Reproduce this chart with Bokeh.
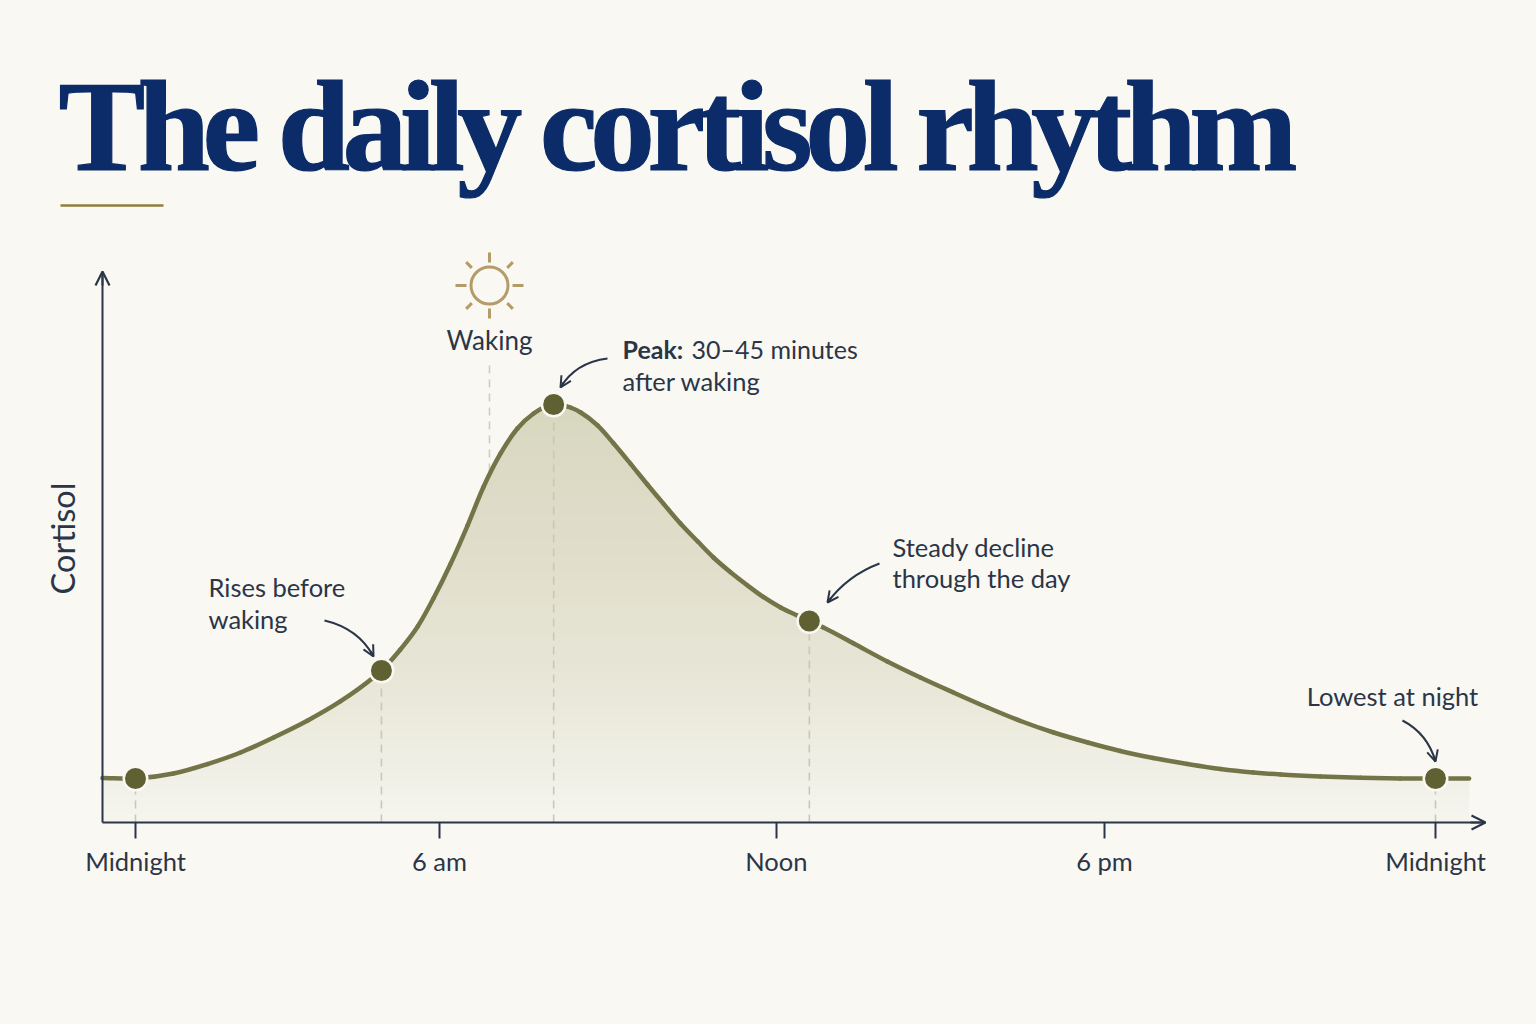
import numpy as np
from bokeh.plotting import figure
from bokeh.embed import file_html
from bokeh.resources import INLINE
from bokeh.models import Label, Arrow, OpenHead, FixedTicker, Range1d

# ---- data -----------------------------------------------------------------
hours = [-0.61, 0.0, 0.70, 1.33, 1.94, 2.55, 3.18, 3.78, 4.39, 4.54, 4.89, 5.21, 5.50, 5.82,
         6.13, 6.42, 6.74, 7.05, 7.35, 7.72, 8.03, 8.22, 8.53, 8.82, 9.14, 9.45, 9.75, 10.06,
         10.38, 10.67, 10.98, 11.30, 11.59, 11.91, 12.22, 12.44, 12.70, 13.26, 13.88, 14.49,
         15.10, 15.73, 16.34, 16.95, 17.58, 18.18, 18.79, 19.42, 20.03, 20.64, 21.14, 21.88,
         22.62, 23.35, 24.00, 24.62]
cortisol = [10.65, 10.53, 11.72, 13.99, 16.75, 20.33, 24.40, 28.95, 34.69, 36.36, 41.39, 46.89,
            53.59, 61.96, 71.05, 80.14, 88.28, 94.26, 97.85, 100.0, 99.28, 98.09, 94.98, 90.79,
            85.81, 80.86, 76.22, 71.53, 67.22, 63.40, 59.93, 56.70, 53.95, 51.44, 49.52, 48.21,
            46.65, 42.82, 38.52, 34.69, 31.10, 27.51, 24.28, 21.53, 19.14, 17.11, 15.43, 14.00,
            12.80, 11.96, 11.48, 11.00, 10.69, 10.53, 10.53, 10.53]
key_hours = [0.0, 4.54, 7.72, 12.44, 24.0]
key_cortisol = [10.53, 36.36, 100.0, 48.21, 10.53]
tick_hours = [0.0, 5.61, 11.83, 17.89, 24.0]
tick_labels = ["Midnight", "6 am", "Noon", "6 pm", "Midnight"]
waking_hour = 6.535
waking_cortisol = 84.0

TITLE = "The daily cortisol rhythm"
BG = "#FAF8F3"
INK = "#2A3647"
OLIVE = "#737548"
DOT = "#5F6133"
GOLD = "#B39C68"
NAVY = "#0B2C68"
FONT = "Lato"

# page pixel -> data helpers (scale: 54.167 px per hour, 4.18 px per unit)
def X(px): return float((px - 135) / 54.167)
def Y(py): return float((822 - py) / 4.18)

p = figure(width=1536, height=1024, output_backend="svg", toolbar_location=None,
           x_range=Range1d(X(0), X(1536)), y_range=Range1d(Y(1024), Y(0)),
           min_border=0, background_fill_color=BG, border_fill_color=BG, outline_line_color=None)
p.grid.visible = False

# axes
ax = p.xaxis[0]
ax.fixed_location = 0
ax.ticker = FixedTicker(ticks=tick_hours)
ax.major_label_overrides = {t: l for t, l in zip(tick_hours, tick_labels)}
ax.bounds = (X(102), X(1483))
ax.axis_line_color = INK
ax.axis_line_width = 2
ax.major_tick_line_color = INK
ax.major_tick_line_width = 2
ax.major_tick_in = 0
ax.major_tick_out = 16
ax.minor_tick_line_color = None
ax.major_label_standoff = 7
ax.major_label_text_font = FONT
ax.major_label_text_font_size = "25.5px"
ax.major_label_text_color = INK

ay = p.yaxis[0]
ay.fixed_location = X(102)
ay.ticker = FixedTicker(ticks=[])
ay.bounds = (Y(822), Y(272))
ay.axis_line_color = INK
ay.axis_line_width = 2
ay.major_tick_line_color = None
ay.minor_tick_line_color = None
ay.major_label_text_font_size = "0px"

# gradient fill painted bottom-up in opaque layers
c = np.array(cortisol)
stops_y = [0, 5, 29, 53, 98, 100]
stops = np.array([[0xF6, 0xF5, 0xEE], [0xF4, 0xF3, 0xEB], [0xE9, 0xE8, 0xDA],
                  [0xE3, 0xE1, 0xCF], [0xD8, 0xD7, 0xC0], [0xD8, 0xD7, 0xC0]], dtype=float)
for lev in np.arange(0, 100, 2.0):
    col = [int(round(np.interp(lev + 1, stops_y, stops[:, k]))) for k in range(3)]
    p.varea(x=hours, y1=np.minimum(c, lev), y2=c, fill_color="#%02X%02X%02X" % tuple(col))

# drop lines
for kh, kc in zip(key_hours, key_cortisol):
    p.line([kh, kh], [0, kc], line_color="#C9C8B4", line_width=1.6, line_dash="8 6")
p.line([waking_hour, waking_hour], [waking_cortisol, Y(362)], line_color="#CFCDBA",
       line_width=1.6, line_dash="8 6")

# curve: one bezier piece between each pair of read values
h = np.array(hours)
slope = np.gradient(c, h)
dx = np.diff(h) / 3
p.bezier(h[:-1], c[:-1], h[1:], c[1:], h[:-1] + dx, c[:-1] + slope[:-1] * dx,
         h[1:] - dx, c[1:] - slope[1:] * dx, line_color=OLIVE, line_width=4.5, line_cap="round")
p.scatter(key_hours, key_cortisol, size=23.5, fill_color=DOT, line_color=BG, line_width=2.5)

# axis arrow heads
for xs, ys, xe, ye in [(X(102), Y(285), X(102), Y(271)), (X(1470), Y(822), X(1485), Y(822))]:
    p.add_layout(Arrow(end=OpenHead(size=14, line_color=INK, line_width=2.2),
                       x_start=xs, y_start=ys, x_end=xe, y_end=ye,
                       line_color=INK, line_width=2))

# sun
p.scatter([X(489)], [Y(285)], size=37, fill_color=None, line_color=GOLD, line_width=3)
for a, r0, r1 in [(0, 23, 34), (90, 23, 33), (180, 23, 34), (270, 23, 33),
                  (45, 25, 33), (135, 25, 33), (225, 25, 33), (315, 25, 33)]:
    ca, sa = np.cos(np.radians(a)), np.sin(np.radians(a))
    p.segment([X(489 + r0 * ca)], [Y(285 - r0 * sa)], [X(489 + r1 * ca)], [Y(285 - r1 * sa)],
              line_color=GOLD, line_width=3)

# callout arrows
for (sx, sy), (cx, cy), (ex, ey) in [((607, 358), (575, 362), (560, 387)),
                                     ((324, 620), (358, 628), (373, 656)),
                                     ((879, 563), (847, 575), (827, 602)),
                                     ((1402, 720), (1427, 733), (1435, 761))]:
    p.quadratic([X(sx)], [Y(sy)], [X(ex)], [Y(ey)], [X(cx)], [Y(cy)], line_color=INK, line_width=2)
    d = np.array([ex - cx, ey - cy], dtype=float)
    d /= np.hypot(*d)
    p.add_layout(Arrow(end=OpenHead(size=11, line_color=INK, line_width=2),
                       x_start=X(ex - d[0] * 6), y_start=Y(ey - d[1] * 6),
                       x_end=X(ex), y_end=Y(ey), line_color=INK, line_width=2))

# text
def label(txt, x, y, size=25.5, align="left", style="normal", color=INK, font=FONT, angle=0.0):
    p.add_layout(Label(x=X(x), y=Y(y - 10.9), text=txt, text_font=font,
                       text_font_size=f"{size}px", text_align=align, text_baseline="alphabetic",
                       text_font_style=style, text_color=color, angle=angle))

p.add_layout(Label(x=X(58), y=Y(170 - 45), text=TITLE, text_font="Liberation Serif",
                   text_font_size="130px", text_font_style="bold", text_color=NAVY,
                   text_baseline="alphabetic"))
p.add_layout(Arrow(end=None, x_start=X(60), y_start=Y(205), x_end=X(163), y_end=Y(205),
                   line_color="#8F7F3A", line_width=2.5))

p.add_layout(Label(x=X(62), y=Y(538), text="Cortisol", text_font=FONT, text_font_size="32.5px",
                   text_align="center", text_baseline="alphabetic", text_color=INK,
                   angle=float(np.pi / 2)))
label("Waking", 489, 350, size=26, align="center")
label("Peak:", 622, 359, size=25, style="bold")
label("30–45 minutes", 691, 359, size=25)
label("after waking", 622, 391)
label("Rises before", 208, 597)
label("waking", 208, 629)
label("Steady decline", 892, 557)
label("through the day", 892, 588)
label("Lowest at night", 1392, 706, align="center")

# Bokeh has no letter-spacing property: tighten the headline's real SVG text once drawn
tracking = """<script>
(function(){
  function walk(root){
    root.querySelectorAll('*').forEach(function(el){
      if(el.tagName==='text' && el.textContent==='%s'){
        el.style.letterSpacing='-7.5px';
        el.setAttribute('stroke','%s');
        el.setAttribute('stroke-width','1.2');
      }
      if(el.shadowRoot){walk(el.shadowRoot);}
    });
  }
  var n=0, t=setInterval(function(){walk(document); if(++n>100){clearInterval(t);}},50);
})();
</script>""" % (TITLE, NAVY)

html = file_html(p, INLINE)
html = html.replace("<head>", f"<head><style>html,body{{background:{BG};margin:0;overflow:hidden}}</style>", 1)
html = html.replace("</body>", tracking + "</body>", 1)
open("out.html", "w").write(html)
